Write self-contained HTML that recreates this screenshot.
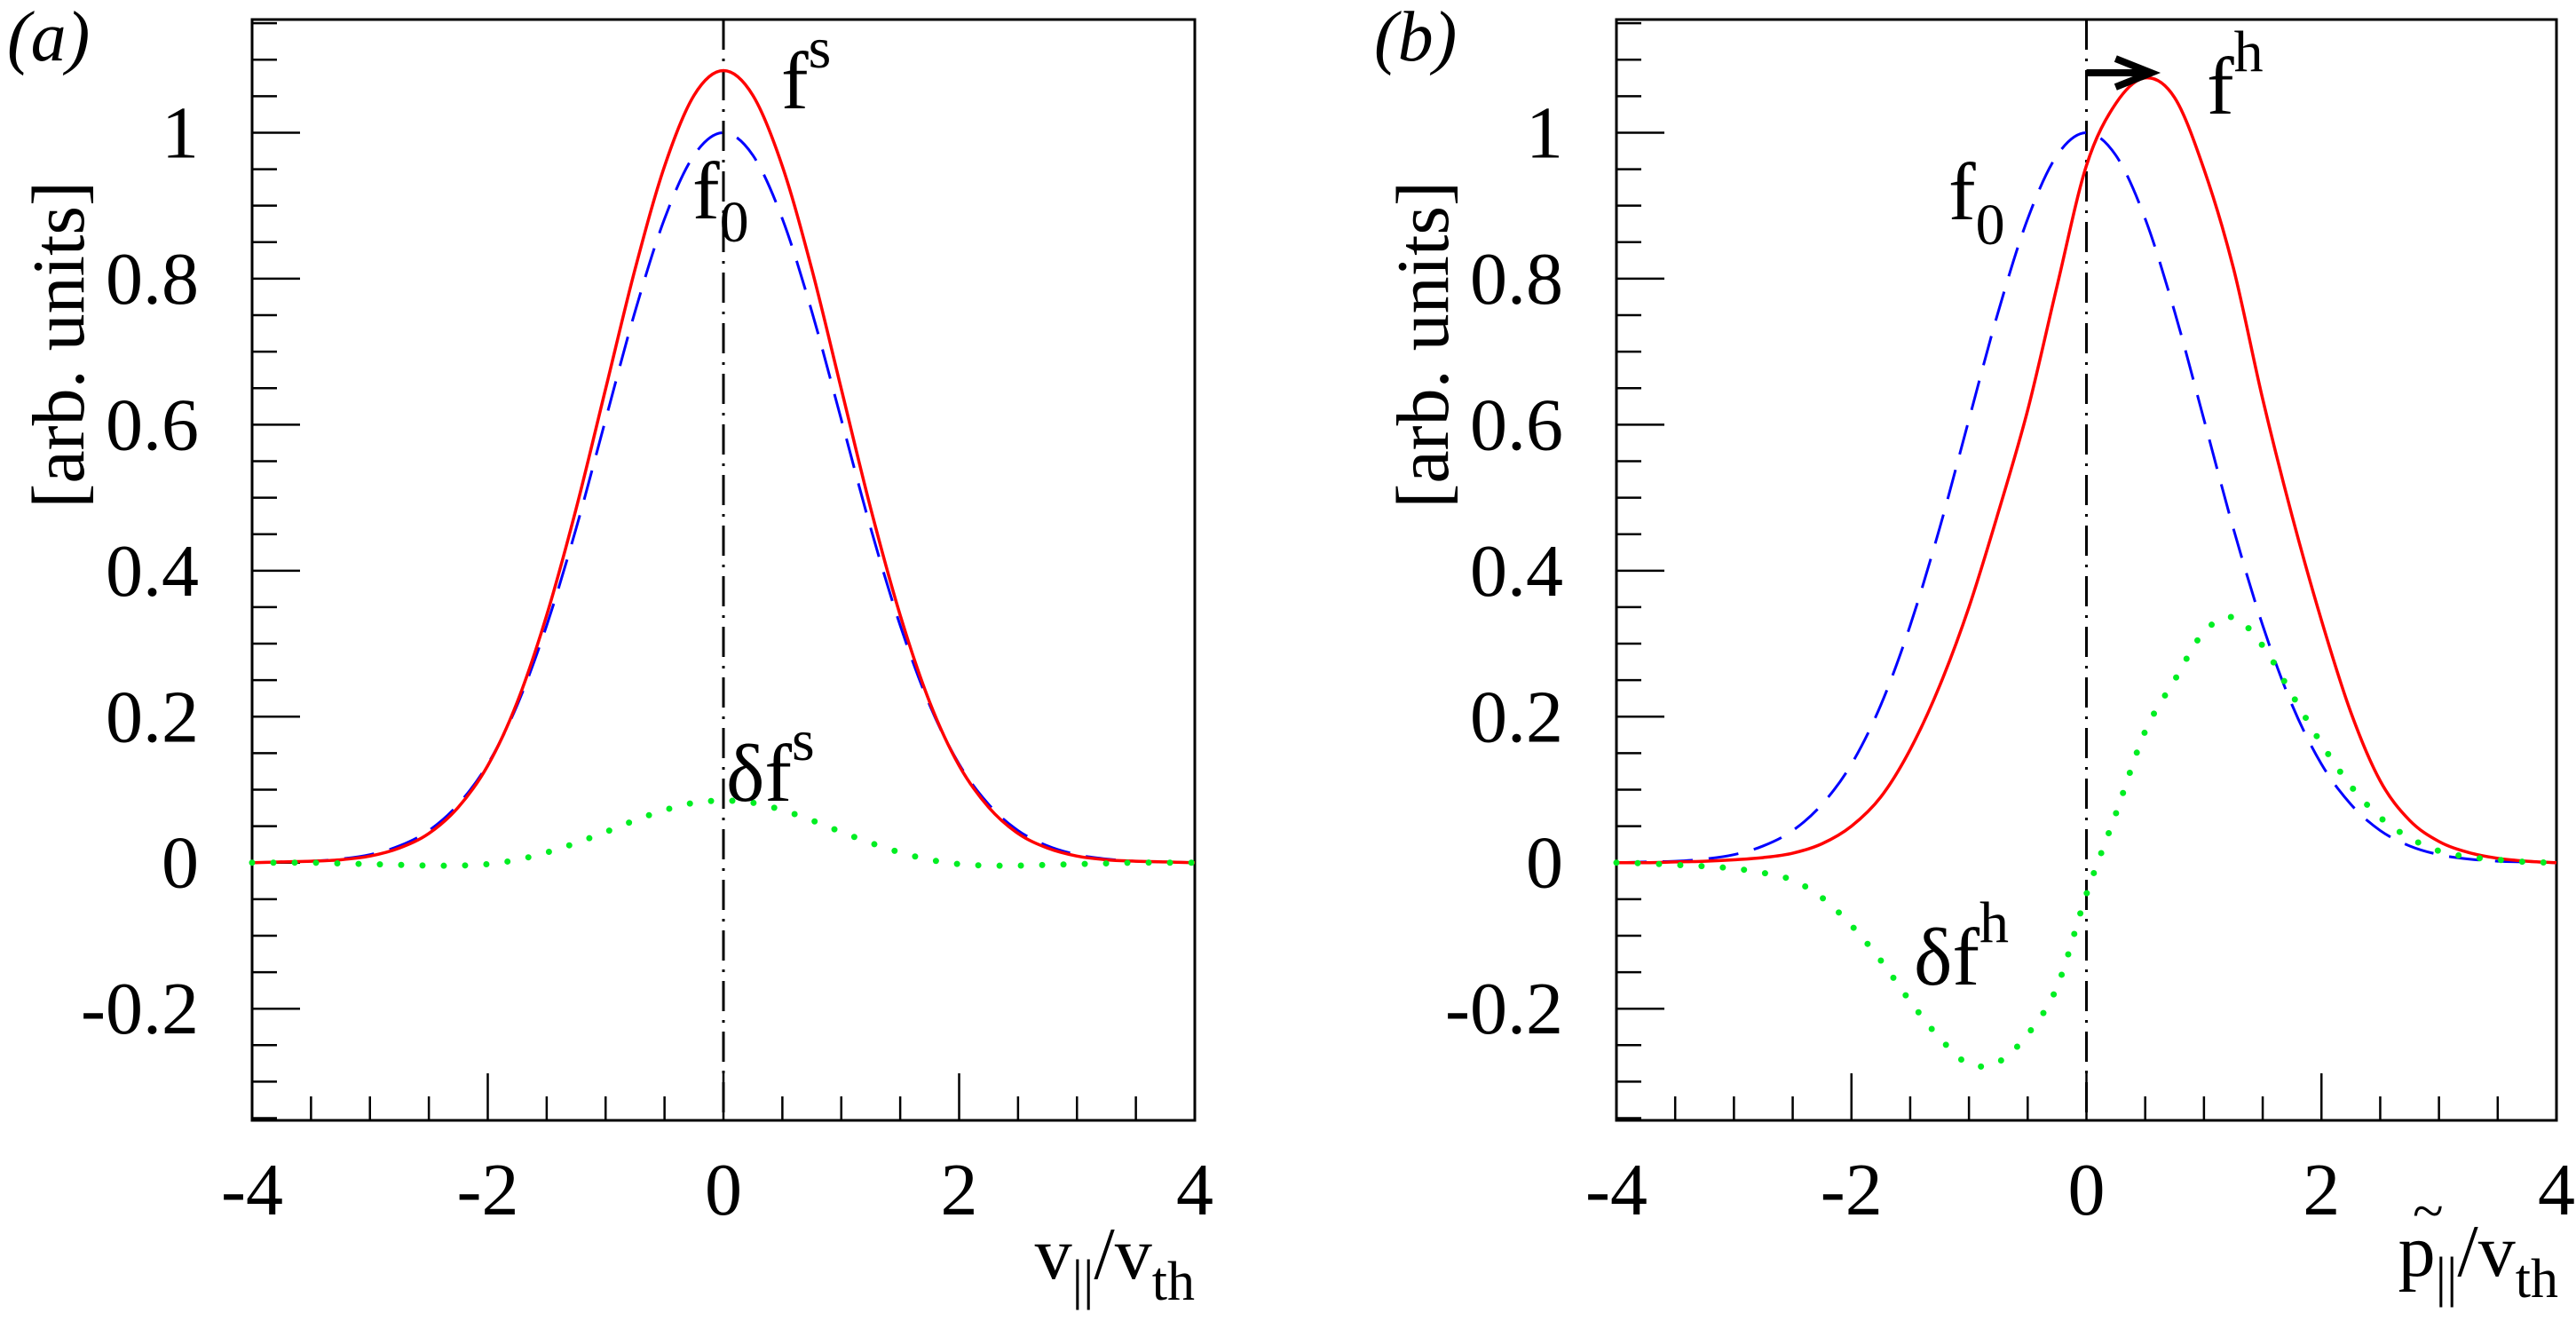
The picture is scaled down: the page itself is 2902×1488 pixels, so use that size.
<!DOCTYPE html>
<html><head><meta charset="utf-8">
<style>
html,body{margin:0;padding:0;background:#fff;}
svg, svg text, svg tspan{font-family:"Liberation Serif","DejaVu Serif","Times New Roman",serif !important;}
</style></head>
<body>
<svg id="fig" width="2902" height="1483" viewBox="0 0 2902 1483" xmlns="http://www.w3.org/2000/svg"></svg>
<script>
// ---- data ----
const xGrid = [-4,-3.75,-3.5,-3.25,-3,-2.75,-2.5,-2.25,-2,-1.75,-1.5,-1.25,-1,-0.75,-0.5,-0.25,0,0.25,0.5,0.75,1,1.25,1.5,1.75,2,2.25,2.5,2.75,3,3.25,3.5,3.75,4];
const f0Values = [0,0.001,0.002,0.005,0.011,0.023,0.044,0.080,0.135,0.216,0.325,0.458,0.607,0.755,0.882,0.969,1,0.969,0.882,0.755,0.607,0.458,0.325,0.216,0.135,0.080,0.044,0.023,0.011,0.005,0.002,0.001,0];
const fsValues = [0,0.001,0.002,0.004,0.009,0.020,0.040,0.076,0.133,0.220,0.339,0.485,0.649,0.813,0.954,1.051,1.085,1.051,0.954,0.813,0.649,0.485,0.339,0.220,0.133,0.076,0.040,0.020,0.009,0.004,0.002,0.001,0];
const dfsValues = [0,0,0,-0.001,-0.002,-0.003,-0.004,-0.004,-0.002,0.004,0.014,0.027,0.042,0.058,0.072,0.082,0.085,0.082,0.072,0.058,0.042,0.027,0.014,0.004,-0.002,-0.004,-0.004,-0.003,-0.002,-0.001,0,0,0];
const fhValues = [0,0,0.001,0.002,0.004,0.007,0.013,0.026,0.050,0.090,0.155,0.242,0.350,0.480,0.620,0.790,0.955,1.040,1.075,1.048,0.950,0.815,0.635,0.475,0.332,0.206,0.112,0.058,0.029,0.014,0.006,0.002,0];
const dfhValues = [0,-0.001,-0.003,-0.005,-0.008,-0.014,-0.024,-0.048,-0.086,-0.134,-0.190,-0.240,-0.276,-0.273,-0.235,-0.170,-0.043,0.067,0.180,0.250,0.316,0.336,0.297,0.230,0.163,0.105,0.062,0.034,0.016,0.008,0.004,0.001,0];
const xTickLabels = ["-4","-2","0","2","4"];
const xTickValues = [-4,-2,0,2,4];
const yTickLabels = ["-0.2","0","0.2","0.4","0.6","0.8","1"];
const yTickValues = [-0.2,0,0.2,0.4,0.6,0.8,1];
const arrowShift = [0, 0.55];
const arrowLevel = 1.082;

const NS="http://www.w3.org/2000/svg";
const FONT="'Liberation Serif', 'DejaVu Serif', serif";
const svg=document.getElementById('fig');
function mk(tag,attrs,parent){const e=document.createElementNS(NS,tag);for(const k in attrs)e.setAttribute(k,attrs[k]);if(tag==='text')e.setAttribute('font-family',FONT);(parent||svg).appendChild(e);return e;}

const Y0=22,Y1=1262,YMIN=-0.353,YMAX=1.155;
function makeAxes(left,right){
  return {
    sx:v=>left+(v+4)/8*(right-left),
    sy:v=>Y1-(v-YMIN)/(YMAX-YMIN)*(Y1-Y0)
  };
}
function spline(xs,ys,ax){
  const p=xs.map((x,i)=>[ax.sx(x),ax.sy(ys[i])]);
  let d=`M${p[0][0]},${p[0][1]}`;
  for(let i=0;i<p.length-1;i++){
    const p0=p[Math.max(i-1,0)],p1=p[i],p2=p[i+1],p3=p[Math.min(i+2,p.length-1)];
    const c1=[p1[0]+(p2[0]-p0[0])/6,p1[1]+(p2[1]-p0[1])/6];
    const c2=[p2[0]-(p3[0]-p1[0])/6,p2[1]-(p3[1]-p1[1])/6];
    d+=` C${c1[0]},${c1[1]} ${c2[0]},${c2[1]} ${p2[0]},${p2[1]}`;
  }
  return d;
}

function panel(opt){
  const g=mk('g',{});
  
  
  const ax=makeAxes(opt.left,opt.right);
  const fr=mk('rect',{x:opt.left,y:Y0,width:opt.right-opt.left,height:Y1-Y0,fill:'none',stroke:'#000','stroke-width':3},g);
  
  
  for(let k=-7;k<=23;k++){
    const v=k*0.05; const y=ax.sy(v);
    if(y<Y0||y>Y1)continue;
    const major=(k%4===0);
    const t=mk('line',{x1:opt.left,x2:opt.left+(major?54:28),y1:y,y2:y,stroke:'#000','stroke-width':2.5},g);
    
    
  }
  yTickLabels.forEach((lab,i)=>{
    const t=mk('text',{x:opt.left-60,y:ax.sy(yTickValues[i])+28,'font-size':84,'text-anchor':'end'},g);
    t.textContent=lab;
    
    
  });
  for(let k=-8;k<=8;k++){
    const v=k*0.5,x=ax.sx(v);
    const major=(k%4===0);
    const t=mk('line',{x1:x,x2:x,y1:Y1,y2:Y1-(major?53:27),stroke:'#000','stroke-width':2.5},g);
    
    
  }
  xTickLabels.forEach((lab,i)=>{
    const t=mk('text',{x:ax.sx(xTickValues[i]),y:1368,'font-size':84,'text-anchor':'middle'},g);
    t.textContent=lab;
    
    
  });
  const vl=mk('line',{x1:ax.sx(0),x2:ax.sx(0),y1:Y0,y2:Y1,stroke:'#000','stroke-width':3,'stroke-dasharray':'34 10 3 10'},g);
  
  
  const blue=mk('path',{d:spline(xGrid,f0Values,ax),fill:'none',stroke:'#0000ff','stroke-width':3,'stroke-dasharray':'34 18'},g);
  
  
  const red=mk('path',{d:spline(xGrid,opt.fvals,ax),fill:'none',stroke:'#ff0000','stroke-width':3.5},g);
  
  
  const green=mk('path',{d:spline(xGrid,opt.dvals,ax),fill:'none',stroke:'#00ee22','stroke-width':7,'stroke-linecap':'round','stroke-dasharray':'0 24'},g);
  
  
  const pl=mk('text',{x:opt.letterX,y:68,'font-size':80,'font-style':'italic'},g);
  pl.textContent=opt.letter;
  
  
  const yt=mk('text',{x:0,y:0,'font-size':84,'text-anchor':'end',transform:`translate(${opt.left-190},204) rotate(-90)`},g);
  yt.textContent='[arb. units]';
  
  
  return {g,ax};
}

const L=panel({name:'panel-a',left:284,right:1346,fvals:fsValues,dvals:dfsValues,fname:'fs-curve',dname:'delta-fs-curve',letter:'(a)',letterX:8});
const R=panel({name:'panel-b',left:1821,right:2880,fvals:fhValues,dvals:dfhValues,fname:'fh-curve',dname:'delta-fh-curve',letter:'(b)',letterX:1548});

function label(parent,x,y,parts,name){
  const t=mk('text',{x:x,y:y,'font-size':92},parent);
  
  
  t.innerHTML=parts;
  return t;
}
label(L.g,880,122,'f<tspan dy="-46" font-size="66">s</tspan>','fs-label');
label(L.g,780,246,'f<tspan dy="26" font-size="66">0</tspan>','f0-label-a');
label(L.g,818,902,'δf<tspan dy="-46" font-size="66">s</tspan>','delta-fs-label');
label(R.g,2486,128,'f<tspan dy="-48" font-size="66">h</tspan>','fh-label');
label(R.g,2195,247,'f<tspan dy="28" font-size="66">0</tspan>','f0-label-b');
label(R.g,2156,1109,'δf<tspan dy="-48" font-size="66">h</tspan>','delta-fh-label');

const xtA=mk('text',{x:1346,y:1440,'font-size':84,'text-anchor':'end'},L.g);
xtA.innerHTML='v<tspan dy="22" font-size="62">||</tspan><tspan dy="-22">/v</tspan><tspan dy="24" font-size="62">th</tspan>';


const xtB=mk('text',{x:2882,y:1437,'font-size':84,'text-anchor':'end'},R.g);
xtB.innerHTML='p<tspan dy="22" font-size="62">||</tspan><tspan dy="-22">/v</tspan><tspan dy="24" font-size="62">th</tspan>';


const tl=mk('text',{x:2718,y:1385,'font-size':64},R.g);
tl.textContent='~';



const ax=R.ax;
const ay=ax.sy(arrowLevel);
const ar=mk('line',{x1:ax.sx(arrowShift[0]),x2:ax.sx(arrowShift[1])-10,y1:ay,y2:ay,stroke:'#000','stroke-width':8},R.g);


const tip=ax.sx(arrowShift[1]);
const ah=mk('path',{d:`M${tip-40},${ay-16} L${tip},${ay} L${tip-40},${ay+16}`,fill:'none',stroke:'#000','stroke-width':8,'stroke-linejoin':'miter'},R.g);


</script>
</body></html>
